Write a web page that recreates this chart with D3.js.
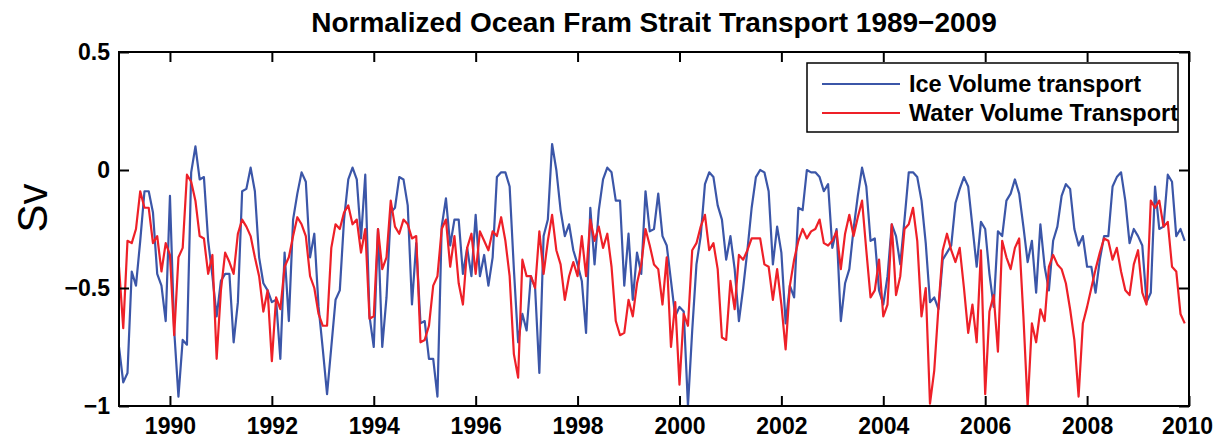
<!DOCTYPE html>
<html><head><meta charset="utf-8">
<script src="https://cdn.jsdelivr.net/npm/d3@7/dist/d3.min.js"></script>
<style>body{margin:0;background:#fff}svg{display:block}text{font-family:"Liberation Sans",Arial,Helvetica,sans-serif}</style>
</head><body>
<svg id="c" width="1222" height="442"></svg>
<script>
const title = "Normalized Ocean Fram Strait Transport 1989\u22122009";
const yLabel = "Sv";
const seriesNames = ["Ice Volume transport", "Water Volume Transport"];
const startYear = 1989;
const xTicks = [1990, 1992, 1994, 1996, 1998, 2000, 2002, 2004, 2006, 2008, 2010];
const yTicks = [0.5, 0, -0.5, -1];
const yTickLabels = ["0.5", "0", "\u22120.5", "\u22121"];

const iceTransport = [
 -0.75,-0.90,-0.86,-0.43,-0.49,-0.30,-0.09,-0.09,-0.18,-0.44,-0.49,-0.64,
 -0.11,-0.68,-0.96,-0.72,-0.74,-0.01,0.10,-0.04,-0.03,-0.30,-0.45,-0.62,
 -0.47,-0.44,-0.44,-0.73,-0.56,-0.09,-0.08,0.01,-0.09,-0.37,-0.48,-0.51,
 -0.56,-0.55,-0.80,-0.35,-0.64,-0.21,-0.10,-0.01,-0.05,-0.37,-0.27,-0.58,
 -0.76,-0.95,-0.75,-0.55,-0.51,-0.21,-0.04,0.01,-0.04,-0.29,-0.02,-0.62,
 -0.75,-0.25,-0.75,-0.54,-0.18,-0.16,-0.03,-0.04,-0.15,-0.57,-0.31,-0.65,
 -0.64,-0.80,-0.80,-0.96,-0.24,-0.12,-0.32,-0.21,-0.21,-0.44,-0.33,-0.45,
 -0.19,-0.45,-0.36,-0.49,-0.37,-0.03,-0.01,-0.01,-0.07,-0.42,-0.73,-0.61,
 -0.68,-0.45,-0.50,-0.86,-0.28,-0.21,0.11,0.00,-0.17,-0.28,-0.23,-0.34,
 -0.40,-0.47,-0.69,-0.16,-0.40,-0.17,-0.04,0.01,-0.01,-0.13,-0.13,-0.49,
 -0.27,-0.55,-0.35,-0.44,-0.09,-0.26,-0.25,-0.10,-0.28,-0.32,-0.47,-0.62,
 -0.58,-0.60,-1.00,-0.68,-0.40,-0.28,-0.06,-0.01,-0.03,-0.15,-0.21,-0.38,
 -0.28,-0.42,-0.64,-0.50,-0.34,-0.16,-0.03,0.00,-0.01,-0.09,-0.40,-0.24,
 -0.35,-0.65,-0.49,-0.54,-0.16,-0.17,0.00,-0.01,-0.01,-0.03,-0.09,-0.06,
 -0.33,-0.25,-0.64,-0.48,-0.42,-0.25,-0.11,0.01,-0.07,-0.30,-0.29,-0.51,
 -0.57,-0.45,-0.23,-0.28,-0.40,-0.21,-0.01,-0.01,-0.03,-0.13,-0.31,-0.56,
 -0.54,-0.59,-0.38,-0.35,-0.32,-0.14,-0.08,-0.03,-0.07,-0.24,-0.41,-0.22,
 -0.25,-0.44,-0.58,-0.26,-0.28,-0.13,-0.10,-0.04,-0.10,-0.24,-0.39,-0.30,
 -0.52,-0.23,-0.41,-0.51,-0.30,-0.24,-0.11,-0.06,-0.08,-0.25,-0.32,-0.28,
 -0.41,-0.41,-0.52,-0.38,-0.28,-0.28,-0.07,-0.03,-0.01,-0.13,-0.31,-0.25,
 -0.28,-0.32,-0.56,-0.52,-0.07,-0.25,-0.24,-0.02,-0.05,-0.28,-0.25,-0.30
];
const waterTransport = [
 -0.41,-0.67,-0.30,-0.31,-0.25,-0.09,-0.16,-0.16,-0.31,-0.28,-0.43,-0.31,
 -0.36,-0.70,-0.37,-0.33,-0.02,-0.05,-0.13,-0.28,-0.29,-0.44,-0.36,-0.80,
 -0.51,-0.35,-0.39,-0.44,-0.27,-0.21,-0.24,-0.28,-0.37,-0.45,-0.60,-0.51,
 -0.81,-0.54,-0.59,-0.41,-0.37,-0.28,-0.20,-0.23,-0.28,-0.45,-0.50,-0.61,
 -0.66,-0.66,-0.33,-0.23,-0.25,-0.18,-0.15,-0.23,-0.21,-0.35,-0.25,-0.63,
 -0.62,-0.25,-0.42,-0.37,-0.13,-0.24,-0.27,-0.21,-0.23,-0.29,-0.28,-0.73,
 -0.72,-0.66,-0.49,-0.45,-0.25,-0.21,-0.41,-0.28,-0.48,-0.57,-0.33,-0.27,
 -0.44,-0.26,-0.30,-0.34,-0.26,-0.28,-0.20,-0.30,-0.45,-0.78,-0.88,-0.38,
 -0.45,-0.45,-0.50,-0.26,-0.44,-0.30,-0.19,-0.34,-0.40,-0.55,-0.45,-0.39,
 -0.45,-0.28,-0.45,-0.21,-0.30,-0.24,-0.33,-0.27,-0.41,-0.64,-0.70,-0.69,
 -0.55,-0.62,-0.48,-0.40,-0.25,-0.32,-0.40,-0.42,-0.57,-0.37,-0.75,-0.56,
 -0.91,-0.61,-0.66,-0.34,-0.31,-0.24,-0.19,-0.34,-0.31,-0.42,-0.71,-0.72,
 -0.47,-0.59,-0.36,-0.38,-0.34,-0.29,-0.29,-0.29,-0.40,-0.41,-0.55,-0.42,
 -0.57,-0.76,-0.49,-0.38,-0.30,-0.25,-0.29,-0.26,-0.25,-0.21,-0.31,-0.32,
 -0.30,-0.26,-0.42,-0.27,-0.19,-0.28,-0.20,-0.13,-0.34,-0.54,-0.51,-0.38,
 -0.62,-0.57,-0.23,-0.53,-0.45,-0.25,-0.23,-0.16,-0.30,-0.62,-0.50,-0.99,
 -0.85,-0.58,-0.34,-0.27,-0.34,-0.39,-0.33,-0.50,-0.69,-0.57,-0.73,-0.34,
 -0.95,-0.60,-0.53,-0.77,-0.30,-0.37,-0.42,-0.33,-0.29,-0.62,-1.00,-0.65,
 -0.73,-0.59,-0.64,-0.41,-0.36,-0.40,-0.42,-0.48,-0.59,-0.72,-0.96,-0.65,
 -0.58,-0.50,-0.42,-0.35,-0.29,-0.30,-0.38,-0.33,-0.43,-0.51,-0.53,-0.40,
 -0.34,-0.52,-0.57,-0.13,-0.16,-0.13,-0.24,-0.22,-0.41,-0.43,-0.61,-0.65
];
const colors = ["#3b56a8", "#ee2028"];

const svg = d3.select("#c");
const m = {l:119, r:1189, t:52, b:406};
const x = d3.scaleLinear().domain([1989, 2010]).range([m.l, m.r]);
const y = d3.scaleLinear().domain([-1, 0.5]).range([m.b, m.t]);

svg.append("defs").append("clipPath").attr("id","clip")
  .append("rect").attr("x",m.l).attr("y",m.t).attr("width",m.r-m.l).attr("height",m.b-m.t);

const line = d3.line().x((d,i)=>x(startYear + i/12)).y(d=>y(d));
[iceTransport, waterTransport].forEach((s,k)=>{
  svg.append("path").datum(s).attr("d", line).attr("fill","none")
    .attr("stroke", colors[k]).attr("stroke-width", 2.2).attr("stroke-linejoin","round")
    .attr("clip-path","url(#clip)");
});

const tickLen = 10;
const fontTick = "bold 23px 'Liberation Sans', Arial, sans-serif";
const xb = svg.append("g").attr("transform",`translate(0,${m.b})`)
  .call(d3.axisBottom(x).tickValues(xTicks).tickFormat(d3.format("d")).tickSizeInner(-tickLen).tickSizeOuter(0).tickPadding(12));
const xt = svg.append("g").attr("transform",`translate(0,${m.t})`)
  .call(d3.axisTop(x).tickValues(xTicks).tickFormat("").tickSizeInner(-tickLen).tickSizeOuter(0));
const yl = svg.append("g").attr("transform",`translate(${m.l},0)`)
  .call(d3.axisLeft(y).tickValues(yTicks).tickFormat((d,i)=>yTickLabels[i]).tickSizeInner(-tickLen).tickSizeOuter(0).tickPadding(9));
const yr = svg.append("g").attr("transform",`translate(${m.r},0)`)
  .call(d3.axisRight(y).tickValues(yTicks).tickFormat("").tickSizeInner(-tickLen).tickSizeOuter(0));
[xb,xt,yl,yr].forEach(g=>{
  g.select(".domain").remove();
  g.selectAll(".tick line").attr("stroke","#000").attr("stroke-width",2);
  g.selectAll("text").style("font", fontTick).attr("fill","#000");
});
xb.selectAll(".tick").filter(d=>d===2010).select("text").attr("dx",-2);
svg.append("rect").attr("x",m.l).attr("y",m.t).attr("width",m.r-m.l).attr("height",m.b-m.t)
  .attr("fill","none").attr("stroke","#000").attr("stroke-width",2);

svg.append("text").attr("x",(m.l+m.r)/2).attr("y",32).attr("text-anchor","middle")
  .style("font","bold 28px 'Liberation Sans', Arial, sans-serif").text(title);
svg.append("text").attr("transform",`translate(47,208) rotate(-90)`).attr("text-anchor","middle")
  .style("font","42px 'Liberation Sans', Arial, sans-serif").text(yLabel);

const lg = svg.append("g");
lg.append("rect").attr("x",807).attr("y",63).attr("width",371).attr("height",69)
  .attr("fill","#fff").attr("stroke","#000").attr("stroke-width",1.5);
seriesNames.forEach((n,k)=>{
  const yy = 84 + k*29;
  lg.append("line").attr("x1",822).attr("x2",900).attr("y1",yy).attr("y2",yy)
    .attr("stroke",colors[k]).attr("stroke-width",2.2);
  lg.append("text").attr("x",909).attr("y",yy+8).style("font","bold 23.5px 'Liberation Sans', Arial, sans-serif").text(n);
});
</script>
</body></html>
